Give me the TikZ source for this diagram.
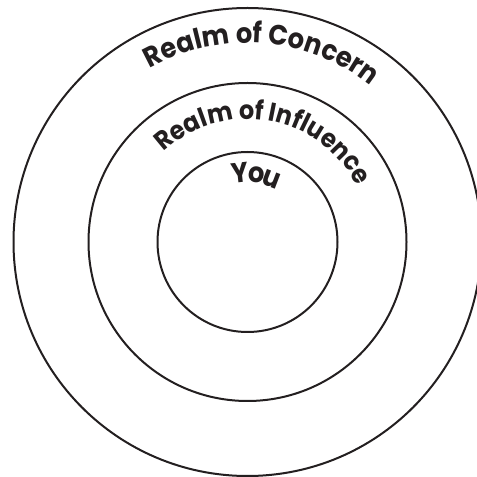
\documentclass[tikz,border=0pt]{standalone}
\usepackage{fontspec}
\newfontfamily\pop{Poppins}[FakeStretch=0.92]
\usetikzlibrary{decorations.text,calc}
\definecolor{ink}{HTML}{231F20}
\begin{document}
\begin{tikzpicture}[x=1pt,y=1pt]
\useasboundingbox (0,0) rectangle (477,477);
\clip (0,0) rectangle (477,477);
\tikzset{ring/.style={draw=ink, line width=2pt},
  arctext/.style={decorate, decoration={text along path, text align=center, text color=ink}},
  letter/.style={inner sep=0pt, anchor=base, text=ink, font=\pop\bfseries\fontsize{28}{28}\selectfont}}
\coordinate (C) at (247.5,235);
\draw[ring] (C) circle[radius=234];
\draw[ring] (C) circle[radius=159];
\draw[ring] (C) circle[radius=90];
\path[arctext, decoration={text={|\pop\bfseries\fontsize{28}{28}\selectfont|Realm of Concern}}]
  ($(C)+(150.5:199)$) arc[start angle=150.5, end angle=20.5, radius=199];
\path[arctext, decoration={text={|\pop\bfseries\fontsize{26}{26}\selectfont|Realm of Influence}}]
  ($(C)+(160:123)$) arc[start angle=160, end angle=0, radius=123];
\node[letter, rotate=6.2] (y1) at ($(C)+(96.2:59.5)$) {Y};
\node[letter, rotate=-7.4] (y2) at ($(C)+(82.6:59.5)$) {o};
\node[letter, rotate=-21] (y3) at ($(C)+(69:59.5)$) {u};
\end{tikzpicture}
\end{document}
